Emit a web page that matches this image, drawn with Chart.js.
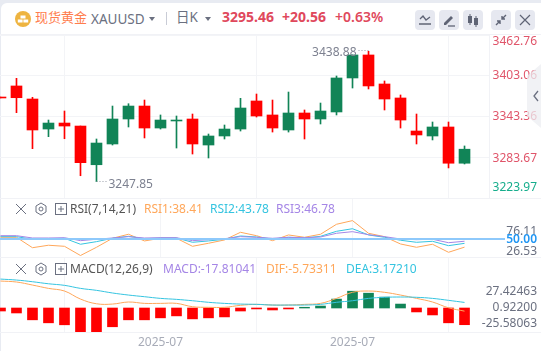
<!DOCTYPE html>
<html>
<head>
<meta charset="utf-8">
<script src="https://cdn.jsdelivr.net/npm/chart.js@4"></script>
<style>
html, body { margin: 0; padding: 0; width: 541px; height: 351px; overflow: hidden; background: #e8ebf2; }
body { font-family: "Noto Sans", "Noto Sans CJK SC", sans-serif; }
#panel { position: absolute; left: 1px; top: 3px; width: 540px; height: 348px; background: #fff; border-radius: 6px 0 0 0; }
canvas { position: absolute; left: 0; }
.t { position: absolute; white-space: nowrap; line-height: 16px; }
.line { position: absolute; left: 0; width: 541px; height: 1px; background: #f1f2f6; }
.btn { position: absolute; top: 10px; width: 20px; height: 20px; background: #e6e8f0; border-radius: 4px; }
.btn svg, .ico { position: absolute; }
.tri { position: absolute; width: 0; height: 0; border-left: 3.5px solid transparent; border-right: 3.5px solid transparent; border-top: 4px solid #6b7080; }
#tab { position: absolute; left: 527px; top: 64px; width: 14px; height: 64px; background: rgba(236,237,242,.75); clip-path: polygon(0 12px, 100% 0, 100% 100%, 0 52px); }
</style>
</head>
<body>
<div id="panel"></div>

<canvas id="mainChart" width="541" height="163" style="top:35px"></canvas>
<canvas id="rsiChart" width="541" height="58" style="top:199px"></canvas>
<canvas id="macdChart" width="541" height="93" style="top:258px"></canvas>

<div class="line" style="top:34px"></div>
<div class="line" style="top:198px"></div>
<div class="line" style="top:257px"></div>
<div class="line" style="top:332px"></div>

<!-- toolbar -->
<svg class="ico" style="left:15px;top:11px" width="16" height="16" viewBox="0 0 16 16"><circle cx="8" cy="8" r="8" fill="#eeb440"/><rect x="5.5" y="4.5" width="5" height="3" fill="#fff"/><rect x="2.8" y="8.5" width="4.8" height="3" fill="#fff"/><rect x="8.4" y="8.5" width="4.8" height="3" fill="#fff"/></svg>
<span class="t" style="left:35px;top:9px;font-size:13px;color:#ff7d4d">现货黄金</span>
<span class="t" style="left:91px;top:11px;font-size:13.5px;color:#6b7080">XAUUSD</span>
<div class="tri" style="left:149px;top:17px"></div>
<div style="position:absolute;left:166px;top:12px;width:1px;height:13px;background:#c9ccd6"></div>
<span class="t" style="left:176px;top:9px;font-size:13.5px;color:#6b7080">日K</span>
<div class="tri" style="left:205px;top:17px"></div>
<span class="t" style="left:222px;top:9px;font-size:14px;font-weight:700;color:#e0485c">3295.46</span>
<span class="t" style="left:282px;top:9px;font-size:14px;font-weight:700;color:#e0485c">+20.56</span>
<span class="t" style="left:335px;top:9px;font-size:14px;font-weight:600;color:#e0485c">+0.63%</span>

<div class="btn" style="left:415px"><svg width="20" height="20"><path d="M5 9 L8 6 L11 10 L15 7" fill="none" stroke="#5f6475" stroke-width="1.3"/><path d="M4 14 H16" stroke="#5f6475" stroke-width="1.5"/></svg></div>
<div class="btn" style="left:439px"><svg width="20" height="20"><path d="M5 13 L5 15 L7 15 L14 8 L12 6 Z" fill="#5f6475"/><path d="M9 16 H16" stroke="#5f6475" stroke-width="1.3"/></svg></div>
<div class="btn" style="left:463px"><svg width="20" height="20"><rect x="5" y="6" width="4" height="7" fill="#5f6475"/><path d="M7 4 V15" stroke="#5f6475"/><rect x="11" y="8" width="4" height="7" fill="#5f6475"/><path d="M13 6 V17" stroke="#5f6475"/></svg></div>
<div class="btn" style="left:491px"><svg width="20" height="20"><path d="M15 5 L11 9 M11 6 V9 H14 M5 15 L9 11 M6 11 H9 V14" fill="none" stroke="#5f6475" stroke-width="1.4"/></svg></div>
<div class="btn" style="left:515px"><svg width="20" height="20"><path d="M5 5 L15 15 M15 5 L5 15" stroke="#5f6475" stroke-width="1.2"/></svg></div>

<!-- rsi header -->
<svg class="ico" style="left:14px;top:202px" width="54" height="14"><path d="M2 2 L12 12 M12 2 L2 12" stroke="#6b7080"/><path d="M27 1 L32 4 V10 L27 13 L22 10 V4 Z" fill="none" stroke="#6b7080"/><circle cx="27" cy="7" r="2" fill="none" stroke="#6b7080"/><rect x="41.5" y="1.5" width="11" height="11" fill="none" stroke="#6b7080"/><path d="M44 7 H50 M47 4 V10" stroke="#6b7080"/></svg>
<span class="t" style="left:70px;top:201px;font-size:12px;color:#555">RSI(7,14,21)</span>
<span class="t" style="left:144px;top:201px;font-size:12px;color:#ffa75a">RSI1:38.41</span>
<span class="t" style="left:210px;top:201px;font-size:12px;color:#35c4e0">RSI2:43.78</span>
<span class="t" style="left:276px;top:201px;font-size:12px;color:#a586e6">RSI3:46.78</span>

<!-- macd header -->
<svg class="ico" style="left:14px;top:262px" width="54" height="14"><path d="M2 2 L12 12 M12 2 L2 12" stroke="#6b7080"/><path d="M27 1 L32 4 V10 L27 13 L22 10 V4 Z" fill="none" stroke="#6b7080"/><circle cx="27" cy="7" r="2" fill="none" stroke="#6b7080"/><rect x="41.5" y="1.5" width="11" height="11" fill="none" stroke="#6b7080"/><path d="M44 7 H50 M47 4 V10" stroke="#6b7080"/></svg>
<span class="t" style="left:70px;top:261px;font-size:12px;color:#555">MACD(12,26,9)</span>
<span class="t" style="left:163px;top:261px;font-size:12px;color:#a586e6">MACD:-17.81041</span>
<span class="t" style="left:266px;top:261px;font-size:12px;color:#ffa75a">DIF:-5.73311</span>
<span class="t" style="left:346px;top:261px;font-size:12px;color:#35c4e0">DEA:3.17210</span>

<div id="tab"><svg width="14" height="64"><path d="M11 27 L7 32 L11 37" fill="none" stroke="#6b7080" stroke-width="1.3"/></svg></div>

<script>
// candles, first one is cut off by the left edge
const candleOpen = [3371.9, 3388.1, 3369.0, 3325.0, 3333.8, 3329.4, 3272.7, 3303.1, 3339.7, 3358.7, 3326.5, 3336.8, 3339.7, 3301.6, 3314.8, 3325.0, 3366.1, 3345.6, 3323.6, 3348.5, 3339.7, 3350.0, 3399.8, 3433.5, 3391.0, 3370.5, 3322.1, 3314.8, 3328.0, 3274.9];
const candleHigh = [3371.9, 3399.3, 3371.5, 3338.2, 3351.4, 3329.4, 3310.4, 3358.7, 3362.1, 3367.5, 3345.6, 3344.1, 3347.0, 3317.7, 3330.9, 3370.0, 3376.3, 3367.5, 3379.2, 3352.9, 3363.1, 3402.7, 3433.5, 3438.88, 3395.4, 3374.9, 3347.0, 3335.3, 3335.3, 3300.2];
const candleLow = [3370.5, 3349.0, 3296.2, 3313.8, 3310.8, 3256.6, 3247.85, 3301.6, 3328.0, 3311.9, 3325.0, 3297.2, 3288.4, 3282.6, 3310.4, 3322.1, 3342.6, 3320.6, 3320.6, 3310.4, 3332.4, 3345.6, 3385.1, 3383.7, 3352.9, 3326.5, 3303.1, 3309.0, 3268.0, 3273.8];
const candleClose = [3370.5, 3370.9, 3323.6, 3333.8, 3329.4, 3275.7, 3304.5, 3339.7, 3358.7, 3326.5, 3338.2, 3338.2, 3303.1, 3314.8, 3325.0, 3355.8, 3344.1, 3326.5, 3348.5, 3339.7, 3351.4, 3399.8, 3433.5, 3388.1, 3369.0, 3338.2, 3316.3, 3328.0, 3274.9, 3295.46];

const rsi1 = [52.4, 52.4, 37.6, 41.1, 39.6, 26.53, 38.2, 51.0, 56.7, 47.2, 51.0, 51.0, 39.6, 43.9, 48.6, 59.5, 54.7, 47.6, 55.7, 52.4, 56.7, 70.9, 76.11, 58.1, 53.3, 42.9, 38.2, 42.5, 31.1, 38.41];
const rsi2 = [53.3, 53.3, 49.6, 50.4, 51.0, 42.5, 46.2, 51.0, 53.8, 50.4, 51.4, 51.4, 45.3, 47.2, 49.6, 54.3, 52.8, 50.0, 52.4, 51.4, 53.8, 60.9, 64.6, 55.7, 52.4, 48.2, 45.3, 46.7, 40.5, 43.78];
const rsi3 = [54.7, 54.7, 51.4, 51.4, 51.8, 47.6, 49.6, 51.4, 53.3, 51.4, 51.8, 51.8, 47.6, 49.0, 50.4, 53.3, 52.4, 51.0, 52.4, 51.8, 52.8, 58.1, 60.4, 56.1, 53.3, 50.0, 49.0, 49.6, 44.7, 46.78];

const dif = [25.0, 24.0, 20.9, 17.5, 14.8, 6.6, 1.8, 1.5, 3.6, 2.2, 2.2, 2.2, -1.2, -1.8, -1.8, 0.2, 1.2, 0.5, 0.5, 1.2, 2.2, 7.3, 13.5, 14.8, 13.5, 10.7, 7.3, 3.6, -2.3, -5.73];
const dea = [27.0, 26.0, 24.3, 22.2, 20.6, 17.5, 15.5, 12.8, 10.7, 9.0, 7.3, 6.3, 4.9, 3.3, 2.2, 1.5, 1.2, 0.5, 0.5, 0.5, 1.2, 3.3, 4.9, 7.3, 8.4, 8.7, 8.4, 7.3, 5.3, 3.17];
const macdHist = [-3.2, -5.3, -12.6, -15.8, -17.9, -25.58, -25.58, -20.0, -12.6, -12.6, -10.5, -8.4, -11.6, -10.5, -9.5, -3.2, -1.0, -2.1, -1.0, 0.8, 2.1, 9.5, 17.9, 15.8, 11.6, 4.2, -4.2, -7.4, -15.8, -17.81];

const priceTicks = [3462.76, 3403.06, 3343.36, 3283.67, 3223.97];
const rsiTicks = [76.11, 50.00, 26.53];
const macdTicks = [27.42463, 0.92200, -25.58063];
const dateTicks = [10, 22];
const dateLabels = ['2025-07', '2025-07'];

const RED = '#ff0000';
const GREEN = '#118457';
const GRID = '#f3f4f7';
const FONT = '"Noto Sans", sans-serif';

const xs = candleOpen.map((v, i) => i);
const candleColors = xs.map(i => candleClose[i] >= candleOpen[i] ? GREEN : RED);
const pts = arr => arr.map((v, i) => ({ x: i, y: v }));

// tick labels are pushed around so they do not run off the pane, so they get drawn by hand
const paneLabels = {
    id: 'paneLabels',
    afterDraw(chart, args, opts) {
        const c = chart.ctx;
        const y = chart.scales[opts.axis];
        const x = chart.scales.x;
        c.save();
        if (opts.guide !== undefined) {
            c.strokeStyle = '#8ec9fb';
            c.lineWidth = 2;
            c.beginPath();
            c.moveTo(0, y.getPixelForValue(opts.guide));
            c.lineTo(505, y.getPixelForValue(opts.guide));
            c.stroke();
        }
        c.textAlign = 'right';
        c.textBaseline = 'middle';
        opts.ticks.forEach((v, i) => {
            c.font = (opts.bold === i ? '600 ' : '') + '12px ' + FONT;
            c.fillStyle = opts.colors[i];
            c.fillText(v.toFixed(opts.decimals), 537, y.getPixelForValue(v) + opts.nudge[i]);
        });
        c.font = '12px ' + FONT;
        (opts.extremes || []).forEach(e => {
            const px = x.getPixelForValue(e.i);
            const py = y.getPixelForValue(e.v);
            c.fillStyle = '#7d8190';
            c.strokeStyle = '#9a9eaa';
            c.lineWidth = 1;
            c.setLineDash([1, 2]);
            c.beginPath();
            c.moveTo(px, Math.round(py) - 0.5);
            c.lineTo(px + e.dir * 11, Math.round(py) - 0.5);
            c.stroke();
            c.setLineDash([]);
            c.textAlign = e.dir < 0 ? 'right' : 'left';
            c.fillText(e.v.toFixed(2), px + e.dir * 12, py + e.dy);
        });
        c.restore();
    }
};

function xAxis(showDates) {
    return {
        type: 'linear',
        offset: false,
        min: -0.03,
        max: 30.53,
        afterBuildTicks: s => { s.ticks = dateTicks.map(v => ({ value: v })); },
        afterFit: s => { s.height = showDates ? 19 : 0; },
        grid: { color: GRID, drawTicks: false },
        border: { display: false },
        ticks: {
            display: showDates,
            autoSkip: false,
            maxRotation: 0,
            padding: 3,
            color: '#a8acb8',
            font: { family: FONT, size: 12 },
            callback: (v) => dateLabels[dateTicks.indexOf(v)]
        }
    };
}

function yAxis(min, max, ticks, showGrid, showBorder) {
    return {
        position: 'right',
        min: min,
        max: max,
        afterBuildTicks: s => { s.ticks = ticks.map(v => ({ value: v })); },
        afterFit: s => { s.width = 52; },
        grid: { display: showGrid, color: GRID, drawTicks: false },
        border: { display: showBorder, color: '#f1f2f6' },
        ticks: { display: false }
    };
}

const base = { responsive: false, animation: false, events: [] };

function lineSet(label, data, color, tension, axis) {
    return { type: 'line', label: label, data: pts(data), borderColor: color, borderWidth: 1, pointRadius: 0, tension: tension, yAxisID: axis, fill: false };
}

new Chart(document.getElementById('mainChart'), {
    type: 'bar',
    data: {
        datasets: [
            { label: 'body', data: xs.map(i => ({ x: i, y: [candleOpen[i], candleClose[i]] })), backgroundColor: candleColors, barThickness: 11, grouped: false },
            { label: 'wick', data: xs.map(i => ({ x: i, y: [candleLow[i], candleHigh[i]] })), backgroundColor: candleColors, barThickness: 1, grouped: false }
        ]
    },
    options: Object.assign({}, base, {
        scales: { x: xAxis(false), y: yAxis(3223.97, 3462.76, priceTicks, true, true) },
        plugins: {
            legend: { display: false }, tooltip: { enabled: false },
            paneLabels: {
                axis: 'y', ticks: priceTicks, decimals: 2,
                nudge: [7, 0, 0, 1, -10],
                colors: ['#e0556a', '#e0556a', '#e0556a', '#e0556a', '#16ad8c'],
                extremes: [{ i: 23, v: 3438.88, dir: -1, dy: 1 }, { i: 6, v: 3247.85, dir: 1, dy: 3 }]
            }
        }
    }),
    plugins: [paneLabels]
});

new Chart(document.getElementById('rsiChart'), {
    type: 'line',
    data: {
        datasets: [
            lineSet('RSI3', rsi3, '#a586e6', 0, 'y'),
            lineSet('RSI2', rsi2, '#35c4e0', 0, 'y'),
            lineSet('RSI1', rsi1, '#ffa75a', 0, 'y')
        ]
    },
    options: Object.assign({}, base, {
        scales: { x: xAxis(false), y: yAxis(24.4, 106.8, rsiTicks, false, false) },
        plugins: {
            legend: { display: false }, tooltip: { enabled: false },
            paneLabels: {
                axis: 'y', ticks: rsiTicks, decimals: 2, guide: 50, bold: 1,
                nudge: [11, 0.5, -3.5],
                colors: ['#6b7080', '#2196f3', '#6b7080']
            }
        }
    }),
    plugins: [paneLabels]
});

new Chart(document.getElementById('macdChart'), {
    type: 'bar',
    data: {
        datasets: [
            lineSet('DEA', dea, '#35c4e0', 0.4, 'yLine'),
            lineSet('DIF', dif, '#ffa75a', 0.4, 'yLine'),
            { label: 'MACD', data: pts(macdHist), backgroundColor: macdHist.map(v => v >= 0 ? GREEN : RED), barThickness: 10, yAxisID: 'y', grouped: false }
        ]
    },
    options: Object.assign({}, base, {
        scales: {
            x: xAxis(true),
            y: yAxis(-25.58, 53.3, macdTicks, false, false),
            yLine: { display: false, min: -27.0, max: 48.5 }
        },
        plugins: {
            legend: { display: false }, tooltip: { enabled: false },
            paneLabels: {
                axis: 'y', ticks: macdTicks, decimals: 5,
                nudge: [9.5, 0.5, -8],
                colors: ['#6b7080', '#6b7080', '#6b7080']
            }
        }
    }),
    plugins: [paneLabels]
});
</script>
</body>
</html>
